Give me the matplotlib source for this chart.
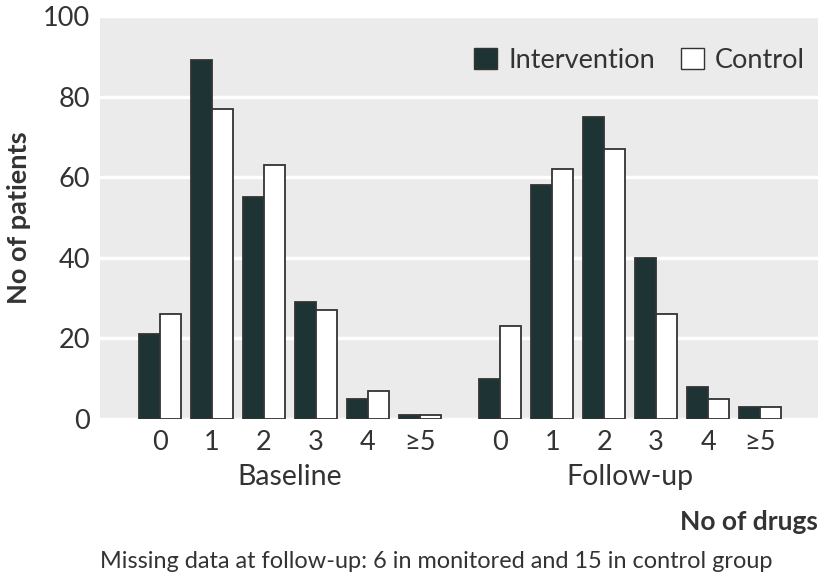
import matplotlib
matplotlib.use("Agg")
import matplotlib.pyplot as plt
import numpy as np
from matplotlib.patches import Patch

plt.rcParams['font.family'] = ['Lato', 'DejaVu Sans']

categories = ["0", "1", "2", "3", "4", "\u22655"]
groups = ["Baseline", "Follow-up"]
baseline_intervention = [21, 89, 55, 29, 5, 1]
baseline_control = [26, 77, 63, 27, 7, 1]
followup_intervention = [10, 58, 75, 40, 8, 3]
followup_control = [23, 62, 67, 26, 5, 3]

dark = "#1e3434"
edge = "#333333"
txt = "#333333"

fig = plt.figure(figsize=(8.2, 5.76), dpi=100)
ax = fig.add_axes([100/820, 157/576, 718/820, 403/576])
ax.set_facecolor("#ebebeb")

n = len(categories)
x_base = np.arange(n)
x_fu = np.arange(n) + n + 0.54
w = 0.4
for xs, iv, cv in [(x_base, baseline_intervention, baseline_control),
                   (x_fu, followup_intervention, followup_control)]:
    ax.bar(xs - w/2, iv, width=w, color=dark, edgecolor=edge, linewidth=1.3, zorder=3)
    ax.bar(xs + w/2, cv, width=w, color="white", edgecolor=edge, linewidth=1.3, zorder=3)

ax.set_xlim(-1.15, 12.65)
ax.set_ylim(0, 100)
ax.set_yticks([0, 20, 40, 60, 80, 100])
ax.yaxis.grid(True, color="white", linewidth=2.5, zorder=0)
ax.set_axisbelow(True)
ax.set_xticks(list(x_base) + list(x_fu))
ax.set_xticklabels(categories * 2)
ax.tick_params(axis='x', length=0, labelsize=19.5, colors=txt, pad=8)
ax.tick_params(axis='y', length=0, labelsize=19.5, colors=txt, pad=7)
for s in ax.spines.values():
    s.set_visible(False)

ax.set_ylabel("No of patients", fontsize=19.5, fontweight='bold', color=txt, labelpad=9)

for g, xs in zip(groups, [x_base, x_fu]):
    ax.text(xs.mean(), -14.5, g, ha='center', va='center', fontsize=20.5, color=txt,
            transform=ax.transData, clip_on=False)

fig.text(818/820, 1 - 522/576, "No of drugs", ha='right', va='center', fontsize=19,
         fontweight='bold', color=txt)
fig.text(100/820, 1 - 562/576, "Missing data at follow-up: 6 in monitored and 15 in control group",
         ha='left', va='center', fontsize=16.9, color=txt)

handles = [Patch(facecolor=dark, edgecolor=edge, label="Intervention"),
           Patch(facecolor="white", edgecolor=edge, label="Control")]
leg = ax.legend(handles=handles, loc='upper right', bbox_to_anchor=(1.015, 0.982), ncol=2,
                frameon=False, fontsize=19.5, handlelength=0.85, handleheight=0.85,
                handletextpad=0.4, columnspacing=0.95, labelcolor=txt)

fig.savefig("out.png", dpi=100)
